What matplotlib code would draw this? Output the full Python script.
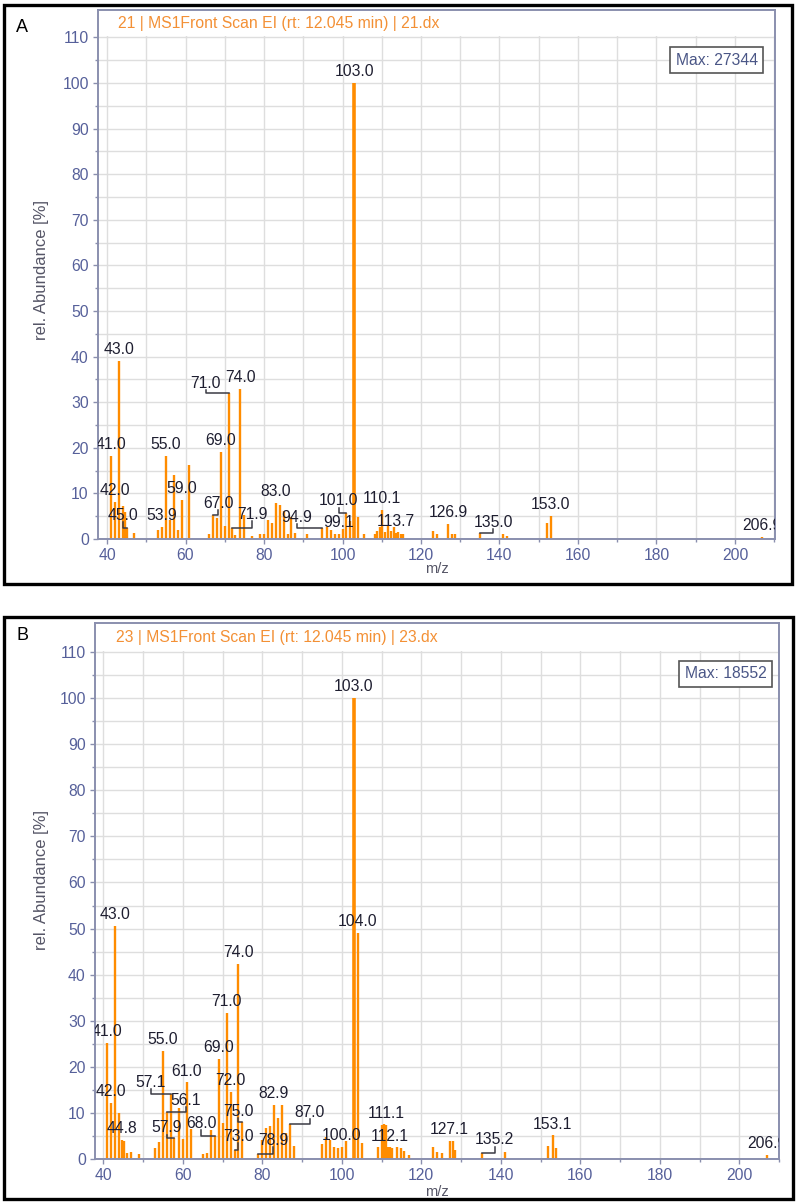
import matplotlib.pyplot as plt
from matplotlib.patches import Rectangle

plt.rcParams['font.family'] = ['Liberation Sans', 'DejaVu Sans']

# spectrum A : 21.dx  (m/z, relative abundance %)
mz_a = [41, 42, 43, 44, 44.5, 45.0, 47, 53, 53.9, 55.0, 56, 57, 58, 59.0, 61, 66, 67.0, 68,
        69.0, 70, 71.0, 71.9, 72.5, 74.0, 75, 77, 79, 80, 81, 82, 83.0, 84, 85, 86, 87, 88,
        91, 94.9, 96, 97, 98, 99.1, 100, 101.0, 102, 103.0, 104, 105.4, 108.3, 108.9, 109.5,
        110.1, 110.9, 111.6, 112.3, 113.2, 113.7, 114.2, 114.8, 115.5, 123, 124, 126.9,
        128, 128.6, 135.0, 141, 142, 152, 153.0, 206.9]
ab_a = [18.2, 8.2, 39.0, 7.2, 6.0, 2.4, 1.3, 1.9, 2.6, 18.2, 4.2, 14.1, 2.0, 8.5, 16.3, 1.2, 5.3, 4.6,
        19.0, 2.8, 32.0, 2.4, 0.8, 32.8, 5.3, 0.7, 1.2, 1.1, 4.2, 3.5, 7.9, 7.5, 6.2, 1.2, 4.9, 1.3,
        1.1, 2.4, 2.7, 1.9, 1.2, 1.0, 2.2, 5.8, 4.0, 100.0, 4.8, 1.0, 1.0, 1.7, 2.6,
        6.4, 1.5, 2.9, 1.7, 2.7, 1.4, 1.5, 1.0, 1.0, 1.8, 1.0, 3.3,
        1.1, 1.1, 1.3, 1.2, 0.6, 3.6, 5.0, 0.5]
labels_a = [41, 42, 43, 45.0, 53.9, 55.0, 59.0, 67.0, 69.0, 71.0, 71.9, 74.0, 83.0, 94.9,
            99.1, 101.0, 103.0, 110.1, 113.7, 126.9, 135.0, 153.0, 206.9]
title_a = '21 | MS1Front Scan EI (rt: 12.045 min) | 21.dx'
max_a = 'Max: 27344'

# spectrum B : 23.dx
mz_b = [41, 42, 43, 44, 44.8, 45.3, 46, 47, 49, 53, 54, 55.0, 56.1, 57.1, 57.9, 59, 60, 61.0, 62,
        65, 66, 67, 68.0, 69.0, 70, 71.0, 72.0, 73.0, 74.0, 75.0, 78.9, 80, 81, 82, 82.9, 84, 85,
        86, 87.0, 88, 95, 96, 97, 98, 99, 100.0, 101, 103.0, 104.0, 105, 109, 110, 110.5, 111.1,
        111.7, 112.1, 112.6, 114, 115, 115.6, 117, 123, 124, 125.3, 127.1, 128, 128.5, 135.2,
        141, 152, 153.1, 154, 206.9]
ab_b = [25.1, 12.1, 50.5, 9.9, 4.1, 3.9, 1.2, 1.6, 1.0, 2.3, 3.6, 23.5, 10.3, 14.2, 4.5, 11.0, 4.3, 16.6, 6.6,
        1.0, 1.2, 6.4, 5.0, 21.8, 7.9, 31.6, 14.6, 2.0, 42.3, 8.1, 1.0, 4.1, 6.8, 7.2, 11.7, 8.8, 11.7,
        5.6, 7.7, 2.8, 3.3, 4.8, 4.1, 2.5, 2.3, 2.7, 3.8, 100.0, 49.0, 3.5, 2.7, 7.4, 7.7, 7.4,
        2.5, 2.5, 2.3, 2.5, 2.3, 1.7, 0.9, 2.5, 1.6, 1.2, 4.0, 3.8, 2.0, 1.4,
        1.6, 2.8, 5.1, 2.3, 0.9]
labels_b = [41, 42, 43, 44.8, 55.0, 56.1, 57.1, 57.9, 61.0, 68.0, 69.0, 71.0, 72.0, 73.0, 74.0,
            75.0, 78.9, 82.9, 87.0, 100.0, 103.0, 104.0, 111.1, 112.1, 127.1, 135.2, 153.1, 206.9]
title_b = '23 | MS1Front Scan EI (rt: 12.045 min) | 23.dx'
max_b = 'Max: 18552'

# labels that sit away from their peak, joined by a leader line: label x, label baseline
lead_a = {45.0: (44.0, 4.2), 67.0: (68.3, 6.8), 71.0: (65.2, 33.2), 71.9: (77.0, 4.4),
          94.9: (88.3, 3.8), 101.0: (99.0, 7.4), 135.0: (138.4, 2.7)}
lead_b = {57.1: (51.9, 15.6), 56.1: (60.8, 11.8), 57.9: (55.9, 5.8), 68.0: (64.6, 6.8),
          75.0: (73.9, 9.4), 73.0: (73.9, 4.0), 78.9: (82.8, 3.0), 87.0: (91.9, 9.2),
          135.2: (138.5, 3.2)}

W, H = 797, 1203
fig = plt.figure(figsize=(W / 100, H / 100), dpi=100)

axc = '#8a8fae'
tickc = '#56609a'
orange = '#ff8c00'
fs = 11.3


def spectrum(box, mz, ab, labels, lead, title, maxtxt, xlim, ytop, maxpos):
    l, t, r, b = box
    ax = fig.add_axes([l / W, 1 - b / H, (r - l) / W, (b - t) / H])
    ax.set_xlim(*xlim)
    ax.set_ylim(0, ytop)
    ax.set_axisbelow(True)
    ax.set_xticks(range(40, 201, 20))
    ax.set_xticks(range(50, 211, 20), minor=True)
    ax.set_yticks(range(0, 111, 10))
    ax.set_yticks(range(5, 110, 10), minor=True)
    ax.grid(which='both', color='#dedede', lw=1.0)
    for s in ax.spines.values():
        s.set_color(axc)
        s.set_linewidth(1.4)
    ax.tick_params(which='major', length=3.6, width=1, color=axc, labelcolor=tickc,
                   labelsize=fs, pad=3)
    ax.tick_params(which='minor', length=2.2, width=1, color=axc)
    # title band above 110
    ax.add_patch(Rectangle((xlim[0], 110.3), xlim[1] - xlim[0], ytop - 110.3,
                           fc='white', ec='none', zorder=1))
    ax.text(0.03, 113.1, title, transform=ax.get_yaxis_transform(), color='#f39035',
            fontsize=fs, va='center', ha='left', zorder=4)

    top = max(ab)
    lws = [2.6 if v == top else 1.7 for v in ab]
    ax.vlines(mz, 0, ab, color=orange, lw=lws, zorder=2)

    for m in labels:
        v = ab[mz.index(m)]
        txt = f'{m:.1f}'
        if m in lead:
            lx, ly = lead[m]
            ax.plot([m, lx, lx], [v, v, ly - 0.5], color='#3a3a44', lw=1.1, zorder=3)
            ax.text(lx, ly, txt, ha='center', va='baseline', fontsize=fs,
                    color='#1e1e30', zorder=4, clip_on=True)
        else:
            ax.annotate(txt, (m, v), xytext=(0, 5), textcoords='offset points',
                        ha='center', va='baseline', fontsize=fs, color='#1e1e30',
                        zorder=4, clip_on=True)

    ax.text(maxpos[0], maxpos[1], maxtxt, transform=ax.get_yaxis_transform(),
            ha='center', va='center', fontsize=fs, color='#4a5686', zorder=5,
            bbox=dict(boxstyle='square,pad=0.35', fc='white', ec='#555555', lw=1.2))
    return ax


spectrum((98, 10, 775, 539), mz_a, ab_a, labels_a, lead_a, title_a, max_a,
         (37.7, 210.2), 116.0, (0.914, 105.0))
spectrum((95, 623, 779, 1159), mz_b, ab_b, labels_b, lead_b, title_b, max_b,
         (37.9, 209.5), 116.3, (0.922, 105.3))

# axis titles
for yc, xl in [(270, 569), (880, 1192)]:
    fig.text(42 / W, 1 - yc / H, 'rel. Abundance [%]', rotation=90, ha='center',
             va='center', fontsize=12, color='#555566')
    fig.text(437 / W, 1 - xl / H, 'm/z', ha='center', va='center', fontsize=10.5,
             color='#555566')

# panel frames and letters
for (x0, y0, x1, y1), letter, ly in [((4, 5, 792, 584), 'A', 28), ((4, 617, 793, 1199), 'B', 636)]:
    fig.add_artist(Rectangle((x0 / W, 1 - y1 / H), (x1 - x0) / W, (y1 - y0) / H,
                             transform=fig.transFigure, fill=False, ec='black', lw=2.4))
    fig.text(22 / W, 1 - ly / H, letter, ha='center', va='center', fontsize=13, color='black')

fig.savefig('out.png', dpi=100)
